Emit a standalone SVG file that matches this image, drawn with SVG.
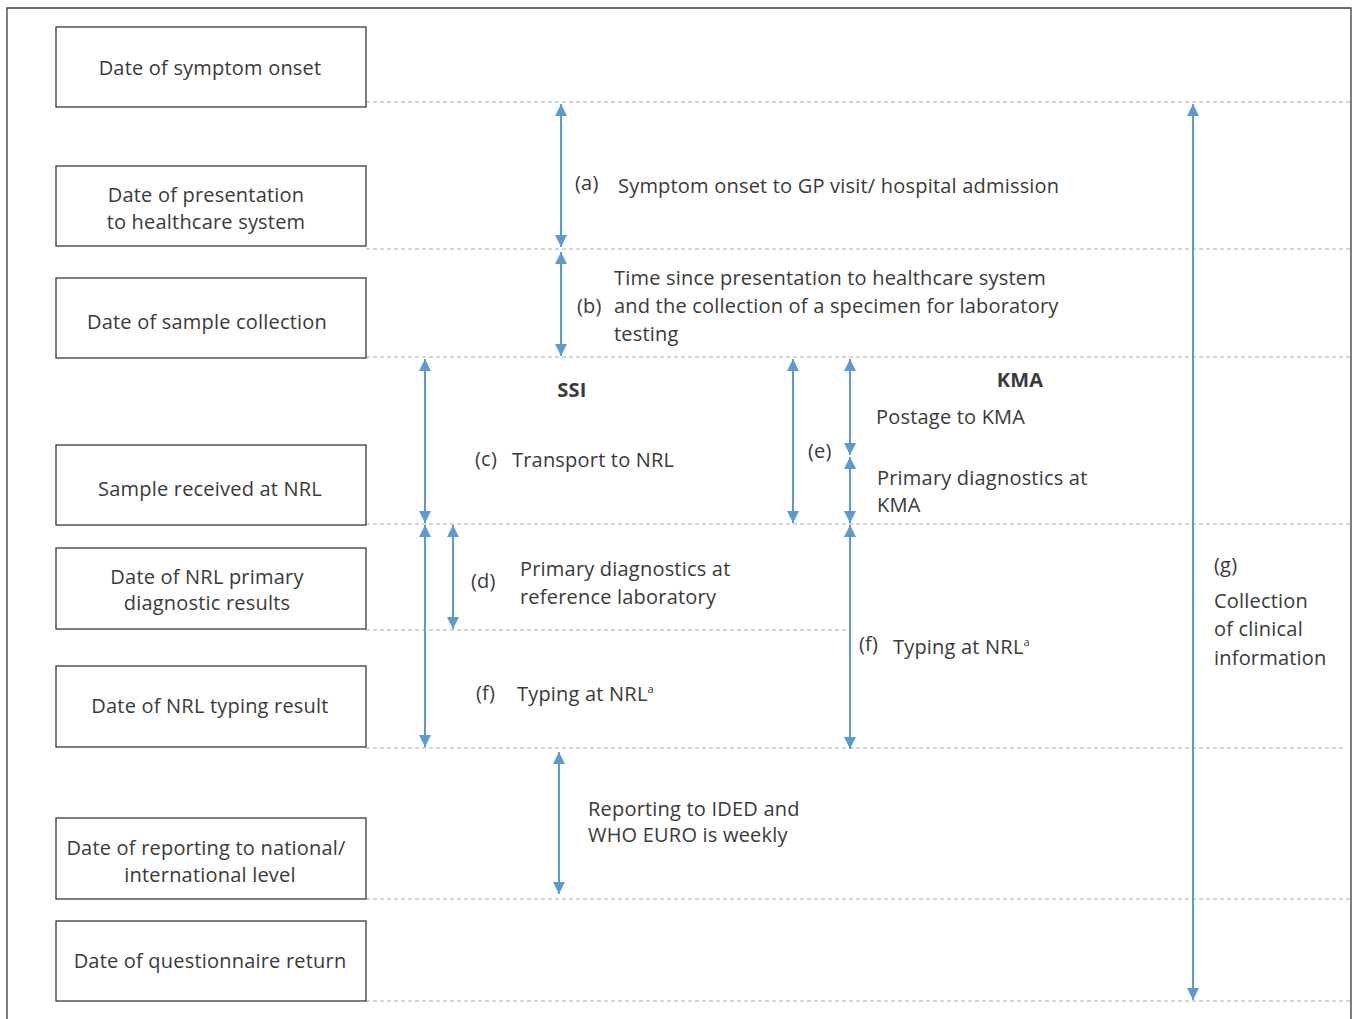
<svg xmlns="http://www.w3.org/2000/svg" width="1354" height="1019" viewBox="0 0 1354 1019">
<defs>
<style>
.box{fill:#fff;stroke:#3a3a3a;stroke-width:1.3}
.t{font-family:"Open Sans","Liberation Sans",sans-serif;font-size:20px;letter-spacing:0.2px;fill:#3a3a3a}
.c{text-anchor:middle}
.b{font-weight:bold}
.dash{stroke:#aaa;stroke-width:1;stroke-dasharray:4 3;fill:none}
.arr{stroke:#5b9bd0;stroke-width:2;fill:none;marker-start:url(#ah);marker-end:url(#ah)}
.sup{font-size:11px}
</style>
<marker id="ah" viewBox="0 0 12 12" refX="12" refY="6" markerWidth="12" markerHeight="12" markerUnits="userSpaceOnUse" orient="auto-start-reverse">
<path d="M0,0 L12,6 L0,12 Z" fill="#5b9bd0"/>
</marker>
</defs>
<rect width="1354" height="1019" fill="#fff"/>
<path d="M7,1019 V8 H1351 V1019" fill="none" stroke="#3a3a3a" stroke-width="1.3"/>
<g id="guides">
<line class="dash" x1="366" y1="102" x2="1351" y2="102"/>
<line class="dash" x1="366" y1="249" x2="1351" y2="249"/>
<line class="dash" x1="366" y1="357" x2="1351" y2="357"/>
<line class="dash" x1="366" y1="524" x2="1351" y2="524"/>
<line class="dash" x1="366" y1="630" x2="850" y2="630"/>
<line class="dash" x1="366" y1="748" x2="1346" y2="748"/>
<line class="dash" x1="366" y1="899" x2="1351" y2="899"/>
<line class="dash" x1="366" y1="1001" x2="1351" y2="1001"/>
</g>
<g id="n1"><rect class="box" x="56" y="27" width="310" height="80"/><text class="t c" x="210" y="75">Date of symptom onset</text></g>
<g id="n2"><rect class="box" x="56" y="166" width="310" height="80"/><text class="t c" x="206" y="202">Date of presentation</text><text class="t c" x="206" y="229">to healthcare system</text></g>
<g id="n3"><rect class="box" x="56" y="278" width="310" height="80"/><text class="t c" x="207" y="329">Date of sample collection</text></g>
<g id="n4"><rect class="box" x="56" y="445" width="310" height="80"/><text class="t c" x="210" y="496">Sample received at NRL</text></g>
<g id="n5"><rect class="box" x="56" y="548" width="310" height="81"/><text class="t c" x="207" y="584">Date of NRL primary</text><text class="t c" x="207" y="610">diagnostic results</text></g>
<g id="n6"><rect class="box" x="56" y="666" width="310" height="81"/><text class="t c" x="210" y="713">Date of NRL typing result</text></g>
<g id="n7"><rect class="box" x="56" y="818" width="310" height="81"/><text class="t c" x="206" y="855">Date of reporting to national/</text><text class="t c" x="210" y="882">international level</text></g>
<g id="n8"><rect class="box" x="56" y="921" width="310" height="80"/><text class="t c" x="210" y="968">Date of questionnaire return</text></g>
<g id="connectors">
<line class="arr" x1="561" y1="104" x2="561" y2="247"/>
<line class="arr" x1="561" y1="252" x2="561" y2="356"/>
<line class="arr" x1="425" y1="359" x2="425" y2="523"/>
<line class="arr" x1="793" y1="359" x2="793" y2="523"/>
<line class="arr" x1="850" y1="359" x2="850" y2="455"/>
<line class="arr" x1="850" y1="457" x2="850" y2="523"/>
<line class="arr" x1="453" y1="525" x2="453" y2="629"/>
<line class="arr" x1="425" y1="525" x2="425" y2="747"/>
<line class="arr" x1="850" y1="525" x2="850" y2="749"/>
<line class="arr" x1="559" y1="752" x2="559" y2="894"/>
<line class="arr" x1="1193" y1="104" x2="1193" y2="1000"/>
</g>
<g id="labels">
<text class="t" x="575" y="190">(a)</text>
<text class="t" x="618" y="193">Symptom onset to GP visit/ hospital admission</text>
<text class="t" x="614" y="285">Time since presentation to healthcare system</text>
<text class="t" x="577" y="313">(b)</text>
<text class="t" x="614" y="313">and the collection of a specimen for laboratory</text>
<text class="t" x="614" y="341">testing</text>
<text class="t b c" x="572" y="397">SSI</text>
<text class="t b c" x="1020" y="387">KMA</text>
<text class="t" x="876" y="424">Postage to KMA</text>
<text class="t" x="808" y="458">(e)</text>
<text class="t" x="475" y="466">(c)</text>
<text class="t" x="512" y="467">Transport to NRL</text>
<text class="t" x="877" y="485">Primary diagnostics at</text>
<text class="t" x="877" y="512">KMA</text>
<text class="t" x="471" y="588">(d)</text>
<text class="t" x="520" y="576">Primary diagnostics at</text>
<text class="t" x="520" y="604">reference laboratory</text>
<text class="t" x="859" y="651">(f)</text>
<text class="t" x="893" y="654">Typing at NRL<tspan class="sup" dy="-8">a</tspan></text>
<text class="t" x="476" y="700">(f)</text>
<text class="t" x="517" y="701">Typing at NRL<tspan class="sup" dy="-8">a</tspan></text>
<text class="t" x="1214" y="572">(g)</text>
<text class="t" x="1214" y="608">Collection</text>
<text class="t" x="1214" y="636">of clinical</text>
<text class="t" x="1214" y="665">information</text>
<text class="t" x="588" y="816">Reporting to IDED and</text>
<text class="t" x="588" y="842">WHO EURO is weekly</text>
</g>
</svg>
